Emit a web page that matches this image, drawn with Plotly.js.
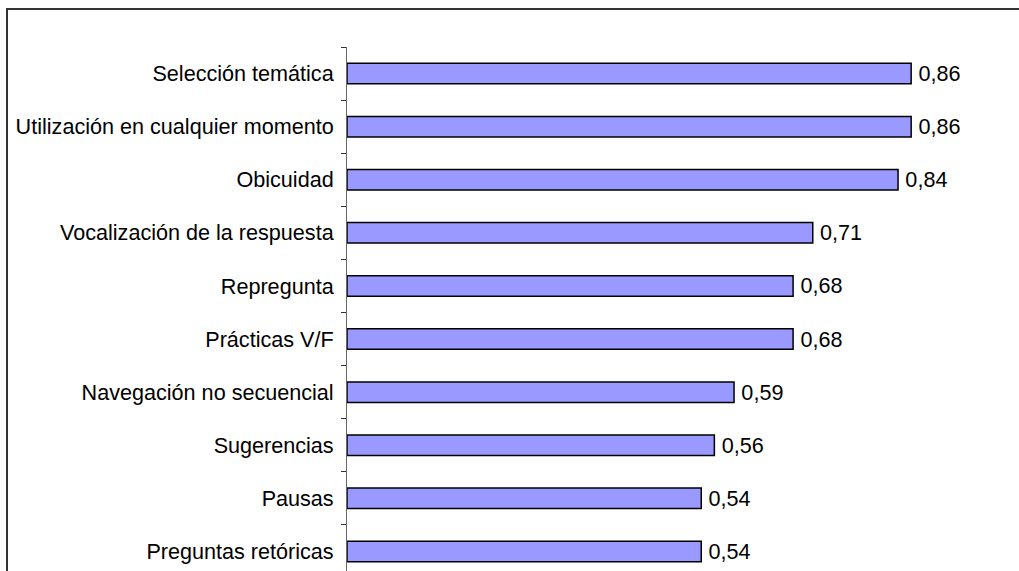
<!DOCTYPE html>
<html>
<head>
<meta charset="utf-8">
<script src="https://cdn.plot.ly/plotly-3.0.1.min.js"></script>
<style>
  html, body { margin: 0; padding: 0; background: #fff; }
  #wrap { position: relative; width: 1019px; height: 571px; overflow: hidden; }
  #chart { width: 1019px; height: 571px; }
  #frame { position: absolute; left: 6px; top: 8px; width: 1100px; height: 700px;
           border-top: 2px solid #333; border-left: 2px solid #333; pointer-events: none; }
</style>
</head>
<body>
<div id="wrap">
  <div id="chart"></div>
  <div id="frame"></div>
</div>
<script>
const categories = [
  "Selección temática",
  "Utilización en cualquier momento",
  "Obicuidad",
  "Vocalización de la respuesta",
  "Repregunta",
  "Prácticas V/F",
  "Navegación no secuencial",
  "Sugerencias",
  "Pausas",
  "Preguntas retóricas"
];
const values = [0.86, 0.86, 0.84, 0.71, 0.68, 0.68, 0.59, 0.56, 0.54, 0.54];
const valueLabels = values.map(v => '\u2009' + v.toFixed(2).replace('.', ','));

const font = { family: 'Arial, "Liberation Sans", sans-serif', size: 21.6, color: '#000' };

const trace = {
  type: 'bar',
  orientation: 'h',
  x: values,
  y: categories,
  text: valueLabels,
  textposition: 'outside',
  constraintext: 'none',
  cliponaxis: false,
  textfont: font,
  marker: { color: '#9999FF', line: { color: '#000', width: 1.5 } },
  hoverinfo: 'skip'
};

const layout = {
  width: 1019,
  height: 571,
  margin: { l: 347, r: 16, t: 47, b: 0, pad: 0 },
  paper_bgcolor: '#fff',
  plot_bgcolor: '#fff',
  showlegend: false,
  bargap: 0.614,
  font: font,
  xaxis: {
    range: [0, 1],
    showgrid: false,
    zeroline: false,
    showline: false,
    showticklabels: false,
    ticks: ''
  },
  yaxis: {
    type: 'category',
    range: [9.368, -0.5],
    showgrid: false,
    zeroline: false,
    showline: true,
    linecolor: '#666',
    linewidth: 1,
    ticks: 'outside',
    tickson: 'boundaries',
    ticklen: 5,
    tickcolor: '#333',
    tickwidth: 1,
    ticklabelstandoff: 8,
    tickfont: font
  }
};

Plotly.newPlot('chart', [trace], layout, { staticPlot: true, displayModeBar: false });
</script>
</body>
</html>
